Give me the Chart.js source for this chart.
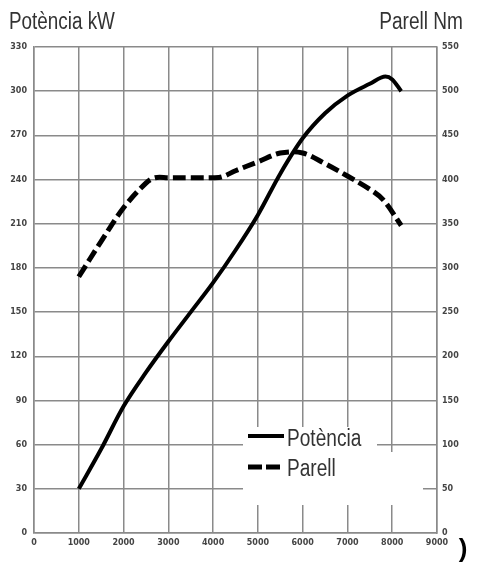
<!DOCTYPE html>
<html>
<head>
<meta charset="utf-8">
<script src="https://cdn.jsdelivr.net/npm/chart.js@4/dist/chart.umd.min.js"></script>
<style>
  html, body { margin: 0; padding: 0; background: #fff; }
  #wrap { width: 482px; height: 564px; }
</style>
</head>
<body>
<div id="wrap"><canvas id="myChart" width="482" height="564"></canvas></div>
<script>
// rpm / kW / Nm
const powerRpm = [1000, 1500, 2000, 2500, 3000, 3500, 4000, 4500, 5000, 5500, 6000, 6500, 7000, 7500, 7850, 8000, 8200];
const powerKw  = [30, 57, 86, 109, 130, 150, 170, 192, 216, 244, 268, 285, 297, 305, 310, 308, 300];
const torqueRpm = [1000, 1500, 2000, 2500, 2700, 3000, 3500, 4000, 4200, 4500, 5000, 5500, 6000, 6500, 7000, 7500, 7800, 8200];
const torqueNm  = [290, 330, 368, 396, 402, 402, 402, 402, 403, 410, 420, 430, 430, 418, 404, 389, 377, 348];
const seriesNames = ['Potència', 'Parell'];
const titleLeft = 'Potència kW';
const titleRight = 'Parell Nm';

const toXY = (xs, ys) => xs.map((x, i) => ({x: x, y: ys[i]}));
const tickFont = {family: 'DejaVu Sans', size: 8, weight: 'bold'};
const gridColor = '#8a8a8a';

// narrow-looking text (the original uses a condensed face)
function narrowText(ctx, txt, x, y, align, size, sx) {
    ctx.save();
    ctx.font = size + 'px "Liberation Sans"';
    ctx.fillStyle = '#333';
    ctx.textBaseline = 'alphabetic';
    const w = ctx.measureText(txt).width * sx;
    const left = align === 'right' ? x - w : x;
    ctx.translate(left, y);
    ctx.scale(sx, 1);
    ctx.textAlign = 'left';
    ctx.fillText(txt, 0, 0);
    ctx.restore();
}

const decor = {
    id: 'decor',
    beforeDatasetsDraw(chart) {
        // white patch behind the legend, cutting the grid
        const ctx = chart.ctx;
        ctx.save();
        ctx.fillStyle = '#fff';
        ctx.fillRect(243, 427, 134, 78);
        ctx.fillRect(377, 452, 46, 53);
        ctx.restore();
    },
    afterDraw(chart) {
        const ctx = chart.ctx;
        narrowText(ctx, titleLeft, 9, 29, 'left', 23, 0.82);
        narrowText(ctx, titleRight, 463, 29, 'right', 23, 0.83);

        // legend
        ctx.save();
        ctx.strokeStyle = '#000';
        ctx.lineWidth = 4;
        ctx.beginPath();
        ctx.moveTo(248, 436); ctx.lineTo(284, 436);
        ctx.stroke();
        ctx.setLineDash([14, 4]);
        ctx.lineWidth = 5;
        ctx.beginPath();
        ctx.moveTo(248, 467); ctx.lineTo(284, 467);
        ctx.stroke();
        ctx.restore();
        narrowText(ctx, seriesNames[0], 287, 446, 'left', 23, 0.83);
        narrowText(ctx, seriesNames[1], 287, 476, 'left', 23, 0.83);

        ctx.save();
        ctx.font = 'bold 26px "Liberation Sans"';
        ctx.fillStyle = '#000';
        ctx.textAlign = 'center';
        ctx.fillText(')', 463, 557);
        ctx.restore();
    }
};

const chart = new Chart(document.getElementById('myChart'), {
    type: 'line',
    data: {
        datasets: [
            {label: seriesNames[0], data: toXY(powerRpm, powerKw), yAxisID: 'y',
             borderColor: '#000', borderWidth: 4, pointRadius: 0, tension: 0.4, cubicInterpolationMode: 'monotone'},
            {label: seriesNames[1], data: toXY(torqueRpm, torqueNm), yAxisID: 'y1',
             borderColor: '#000', borderWidth: 5, borderDash: [13, 5], pointRadius: 0, tension: 0.35}
        ]
    },
    options: {
        responsive: false,
        animation: false,
        layout: {padding: {top: 47, left: 0, right: 0, bottom: 0}},
        plugins: {legend: {display: false}, tooltip: {enabled: false}},
        scales: {
            x: {
                type: 'linear', min: 0, max: 9000,
                ticks: {stepSize: 1000, font: tickFont, color: '#444', padding: 5, maxRotation: 0,
                        callback: v => String(v)},
                grid: {color: gridColor, lineWidth: 1.5, drawTicks: false},
                border: {color: gridColor, width: 1.5},
                afterFit: s => { s.height = 31; }
            },
            y: {
                position: 'left', min: 0, max: 330,
                ticks: {stepSize: 30, font: tickFont, color: '#444', padding: 7},
                grid: {color: gridColor, lineWidth: 1.5, drawTicks: false},
                border: {color: gridColor, width: 1.5},
                afterFit: s => { s.width = 34; }
            },
            y1: {
                position: 'right', min: 0, max: 550,
                ticks: {stepSize: 50, font: tickFont, color: '#444', padding: 5},
                grid: {display: false, drawTicks: false},
                border: {color: gridColor, width: 1.5},
                afterFit: s => { s.width = 45; }
            }
        }
    },
    plugins: [decor]
});
</script>
</body>
</html>
